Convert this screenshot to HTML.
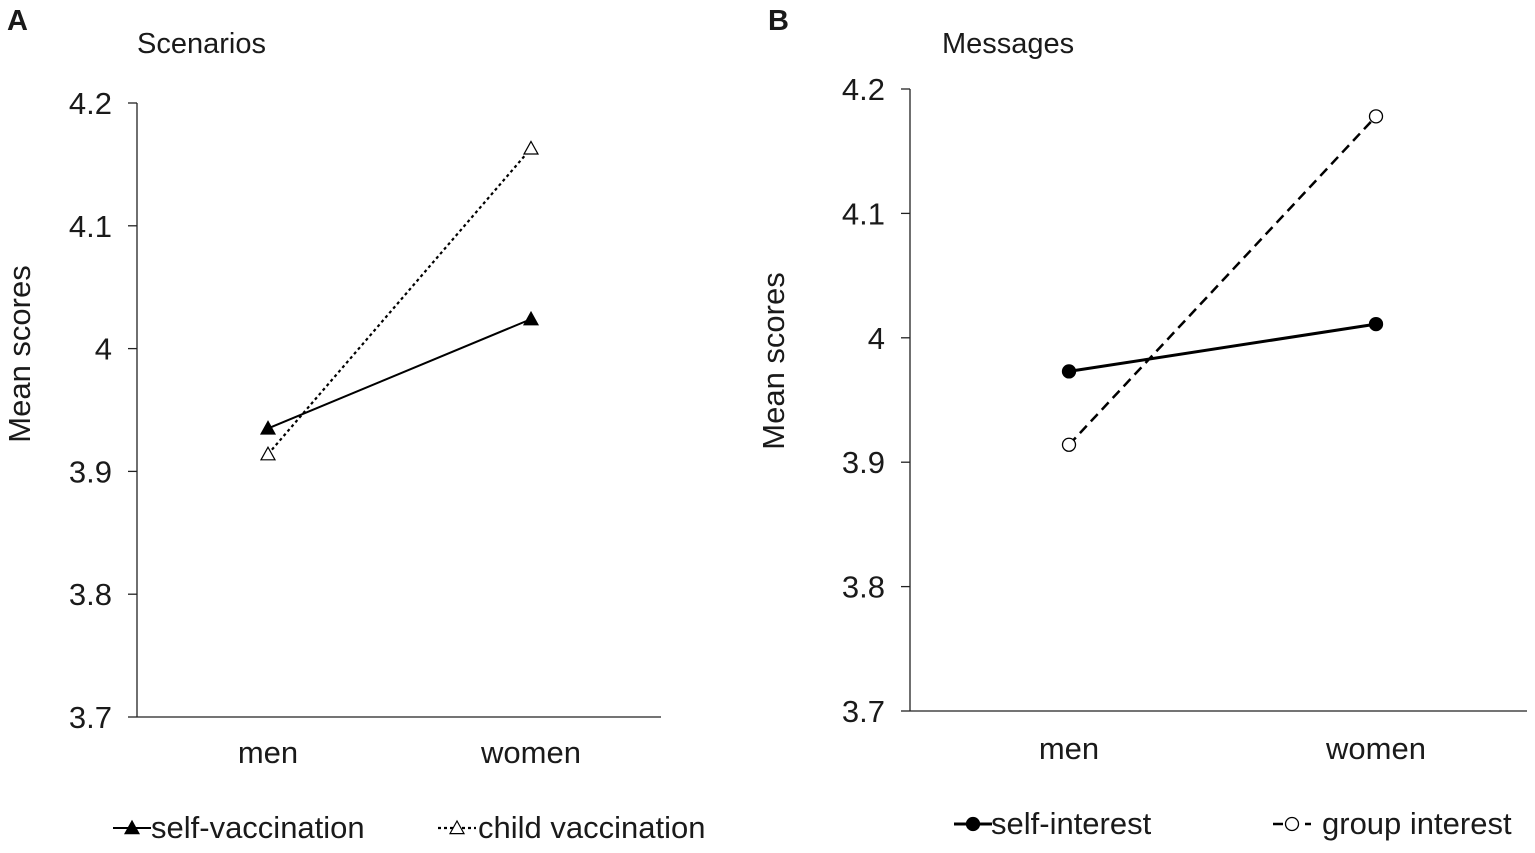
<!DOCTYPE html>
<html><head><meta charset="utf-8"><style>
body{margin:0;background:#fff;}
svg text{font-family:"Liberation Sans",Arial,sans-serif;fill:#1a1a1a;}
</style></head><body>
<svg id="c" width="1535" height="848" xmlns="http://www.w3.org/2000/svg"></svg>
<script>
const categories=["men","women"];
const yTicks=[3.7,3.8,3.9,4.0,4.1,4.2];
const yTickLabels=["3.7","3.8","3.9","4","4.1","4.2"];
const selfVacc=[3.935,4.024];
const childVacc=[3.914,4.163];
const selfInterest=[3.973,4.011];
const groupInterest=[3.914,4.178];

const svg=document.getElementById('c');
const NS='http://www.w3.org/2000/svg';
function mk(tag,attrs,parent){const e=document.createElementNS(NS,tag);for(const k in attrs)e.setAttribute(k,attrs[k]);(parent||svg).appendChild(e);return e;}
function txt(s,x,y,size,anchor,parent){const t=mk('text',{x:x,y:y,'font-size':size,'text-anchor':anchor||'start'},parent);t.textContent=s;return t;}

function marker(g,type,x,y){
  if(type==='tri-fill'||type==='tri-open'){
    const s=7;
    return mk('polygon',{points:`${x},${y-s} ${x-s},${y+s*0.8} ${x+s},${y+s*0.8}`,fill:type==='tri-fill'?'#000':'#fff',stroke:'#000','stroke-width':1.2},g);
  } else {
    return mk('circle',{cx:x,cy:y,r:6.5,fill:type==='circ-fill'?'#000':'#fff',stroke:'#000','stroke-width':1.3},g);
  }
}

function panel(cfg){
  const g=mk('g',{});
  
  
  const yS=v=>cfg.y0+(v-3.7)/(0.5)*(cfg.y1-cfg.y0);
  const xS=i=>cfg.xc[i];
  const ax=mk('line',{x1:cfg.xa,y1:cfg.y1,x2:cfg.xa,y2:cfg.y0,stroke:'#222','stroke-width':1.3},g);
  
  const xa=mk('line',{x1:cfg.xa,y1:cfg.y0,x2:cfg.xe,y2:cfg.y0,stroke:'#222','stroke-width':1.3},g);
  
  yTicks.forEach((v,i)=>{
    mk('line',{x1:cfg.xa-9,x2:cfg.xa,y1:yS(v),y2:yS(v),stroke:'#222','stroke-width':1.3},g);
    const t=txt(yTickLabels[i],cfg.xa-25,yS(v)+11,31,'end',g);
    
  });
  categories.forEach((c,i)=>{
    const t=txt(c,xS(i),cfg.y0+cfg.xly,31,'middle',g);
    
  });
  const yt=txt('Mean scores',0,0,31,'middle',g);
  yt.setAttribute('transform',`translate(${cfg.ytx},${cfg.yty}) rotate(-90)`);
  
  const ti=txt(cfg.title,cfg.tx,53,29,'start',g);
  
  const lb=mk('text',{x:cfg.lx,y:30,'font-size':29,'font-weight':'bold'},g);lb.textContent=cfg.letter;
  
  cfg.series.forEach(s=>{
    const l=mk('line',{x1:xS(0),y1:yS(s.data[0]),x2:xS(1),y2:yS(s.data[1]),stroke:'#000','stroke-width':s.w,'stroke-dasharray':s.dash},g);
    
    s.data.forEach((v,i)=>{const m=marker(g,s.marker,xS(i),yS(v));
      });
    const lg=mk('g',{},g);
    
    mk('line',{x1:s.lgx,x2:s.lgx+38,y1:s.lgy-10,y2:s.lgy-10,stroke:'#000','stroke-width':s.w,'stroke-dasharray':s.dash},lg);
    marker(lg,s.marker,s.lgx+19,s.lgy-10);
    txt(s.label,s.ltx,s.lgy,31,'start',lg);
  });
}

panel({name:'panel-a-scenarios',xa:137,xe:661,y0:717,y1:103,xc:[268,531],xly:46,ytx:30,yty:354,title:'Scenarios',tx:137,lx:7,letter:'A',
  series:[
    {name:'self-vaccination',data:selfVacc,marker:'tri-fill',dash:'none',w:2,label:'self-vaccination',lgx:113,ltx:151,lgy:838},
    {name:'child-vaccination',data:childVacc,marker:'tri-open',dash:'3,3',w:2.2,label:'child vaccination',lgx:438,ltx:478,lgy:838}
  ]});
panel({name:'panel-b-messages',xa:910,xe:1527,y0:711,y1:89,xc:[1069,1376],xly:48,ytx:784,yty:361,title:'Messages',tx:942,lx:768,letter:'B',
  series:[
    {name:'self-interest',data:selfInterest,marker:'circ-fill',dash:'none',w:3,label:'self-interest',lgx:954,ltx:991,lgy:834},
    {name:'group-interest',data:groupInterest,marker:'circ-open',dash:'10,6',w:2.5,label:'group interest',lgx:1273,ltx:1322,lgy:834}
  ]});
</script>
</body></html>
